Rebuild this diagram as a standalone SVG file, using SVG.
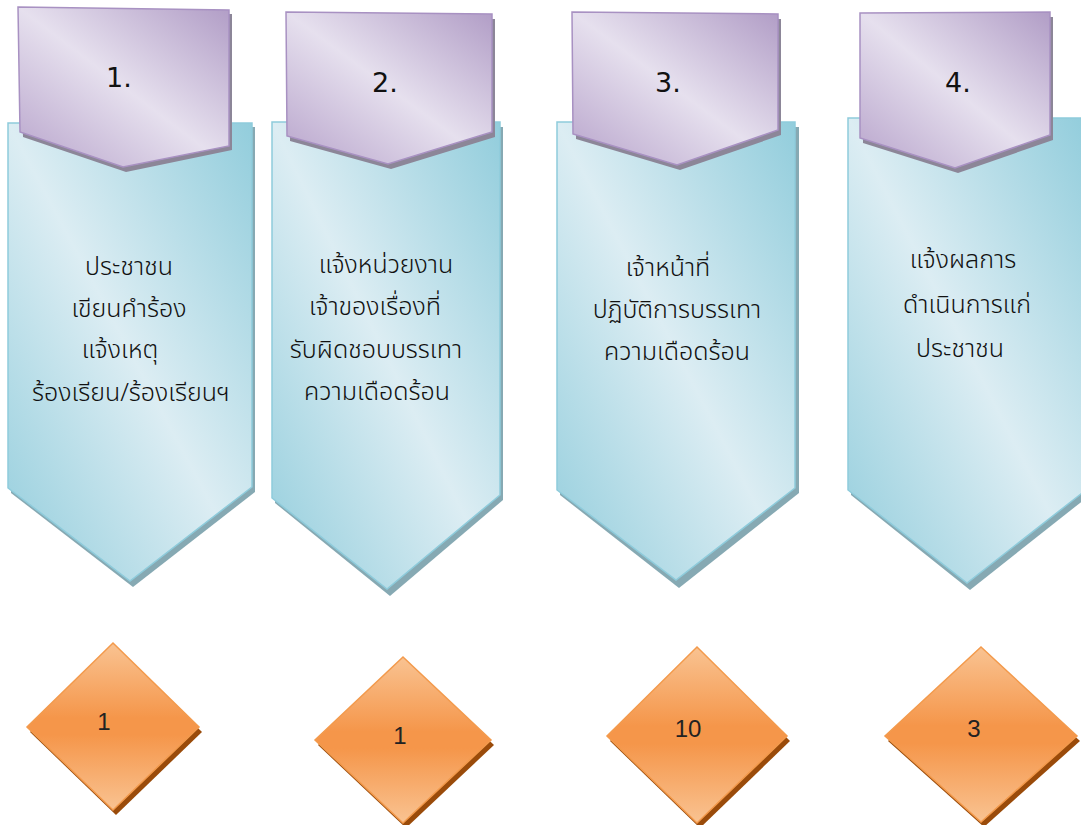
<svg xmlns="http://www.w3.org/2000/svg" width="1081" height="825" viewBox="0 0 1081 825">
  <defs>
    <linearGradient id="gBlue" x1="0" y1="1" x2="1" y2="0">
      <stop offset="0" stop-color="#92cddc"/>
      <stop offset="0.5" stop-color="#dcedf3"/>
      <stop offset="1" stop-color="#92cddc"/>
    </linearGradient>
    <linearGradient id="gPurple" x1="0" y1="1" x2="1" y2="0">
      <stop offset="0" stop-color="#b7a3cb"/>
      <stop offset="0.5" stop-color="#e6e0ee"/>
      <stop offset="1" stop-color="#b19dc6"/>
    </linearGradient>
    <linearGradient id="gOrange" x1="0" y1="0" x2="0" y2="1">
      <stop offset="0" stop-color="#f9c392"/>
      <stop offset="0.45" stop-color="#f5964a"/>
      <stop offset="0.55" stop-color="#f5964a"/>
      <stop offset="1" stop-color="#f9c392"/>
    </linearGradient>
  </defs>
  <style>
    .blue { fill: url(#gBlue); stroke: #8ecbdb; stroke-width: 1.5; }
    .blueSh { fill: #86a9b3; }
    .purple { fill: url(#gPurple); stroke: #a891c2; stroke-width: 1.5; }
    .purpleSh { fill: #8c8698; }
    .orange { fill: url(#gOrange); stroke: #f39a4c; stroke-width: 1.5; }
    .orangeSh { fill: #9a4b0a; }
    .th { font-family: "Noto Sans Thai", Tahoma, "Noto Sans", "DejaVu Sans", sans-serif; font-size: 25px; font-weight: 300; fill: #111; text-anchor: middle; }
    .num { font-family: "DejaVu Sans", "Liberation Sans", sans-serif; font-size: 27px; fill: #111; text-anchor: middle; }
    .cnt { font-family: "Liberation Sans", Arial, sans-serif; font-size: 24px; fill: #222; text-anchor: middle; }
  </style>
  <rect width="1081" height="825" fill="#ffffff"/>

  <g id="step1">
    <polygon class="blueSh" points="11,127 255,127 255,492 133,587 11,493"/>
    <polygon class="blue" points="8,123 252,123 252,487 130,581 8,488"/>
    <polygon class="purpleSh" points="21,12 232,14 232,150 126,172 23,137"/>
    <polygon class="purple" points="18,7 229,10 229,146 123,167 20,132"/>
    <text class="num" x="119" y="87">1.</text>
    <text class="th" x="129" y="275">ประชาชน</text>
    <text class="th" x="129" y="317">เขียนคำร้อง</text>
    <text class="th" x="120" y="358">แจ้งเหตุ</text>
    <text class="th" x="131" y="401">ร้องเรียน/ร้องเรียนฯ</text>
  </g>

  <g id="step2">
    <polygon class="blueSh" points="275,127 503,127 503,500 390,596 275,503"/>
    <polygon class="blue" points="272,122 500,122 500,495 387,589 272,498"/>
    <polygon class="purpleSh" points="289,17 495,19 495,137 391,169 290,141"/>
    <polygon class="purple" points="286,12 492,14 492,132 388,164 287,136"/>
    <text class="num" x="385" y="92">2.</text>
    <text class="th" x="386" y="273">แจ้งหน่วยงาน</text>
    <text class="th" x="375" y="315">เจ้าของเรื่องที่</text>
    <text class="th" x="376" y="358">รับผิดชอบบรรเทา</text>
    <text class="th" x="377" y="400">ความเดือดร้อน</text>
  </g>

  <g id="step3">
    <polygon class="blueSh" points="560,127 799,127 799,493 679,588 560,495"/>
    <polygon class="blue" points="557,122 795,122 795,488 676,580 557,490"/>
    <polygon class="purpleSh" points="575,17 781,19 781,135 680,170 576,139"/>
    <polygon class="purple" points="572,12 778,14 778,130 677,165 573,134"/>
    <text class="num" x="668" y="92">3.</text>
    <text class="th" x="668" y="276">เจ้าหน้าที่</text>
    <text class="th" x="677" y="318">ปฏิบัติการบรรเทา</text>
    <text class="th" x="677" y="360">ความเดือดร้อน</text>
  </g>

  <g id="step4">
    <polygon class="blueSh" points="851,123 1090,123 1090,495 970,590 851,495"/>
    <polygon class="blue" points="848,118 1086,118 1086,490 967,583 848,490"/>
    <polygon class="purpleSh" points="863,18 1053,17 1053,140 958,173 863,143"/>
    <polygon class="purple" points="860,13 1050,12 1050,135 955,168 860,138"/>
    <text class="num" x="958" y="92">4.</text>
    <text class="th" x="963" y="268">แจ้งผลการ</text>
    <text class="th" x="967" y="313">ดำเนินการแก่</text>
    <text class="th" x="960" y="357">ประชาชน</text>
  </g>

  <g id="count1">
    <polygon class="orangeSh" points="116,648 202,732 116,815 30,732"/>
    <polygon class="orange" points="113,643 199,727 113,810 27,727"/>
    <text class="cnt" x="104" y="730">1</text>
  </g>
  <g id="count2">
    <polygon class="orangeSh" points="406,662 494,745 406,828 318,745"/>
    <polygon class="orange" points="403,657 491,740 403,823 315,740"/>
    <text class="cnt" x="400" y="744">1</text>
  </g>
  <g id="count3">
    <polygon class="orangeSh" points="700,652 790,741 700,828 610,741"/>
    <polygon class="orange" points="697,647 787,736 697,823 607,736"/>
    <text class="cnt" x="688" y="737">10</text>
  </g>
  <g id="count4">
    <polygon class="orangeSh" points="984,652 1080,741 984,827 888,741"/>
    <polygon class="orange" points="981,647 1077,736 981,822 885,736"/>
    <text class="cnt" x="974" y="737">3</text>
  </g>

  <g id="connectors"/>
</svg>
